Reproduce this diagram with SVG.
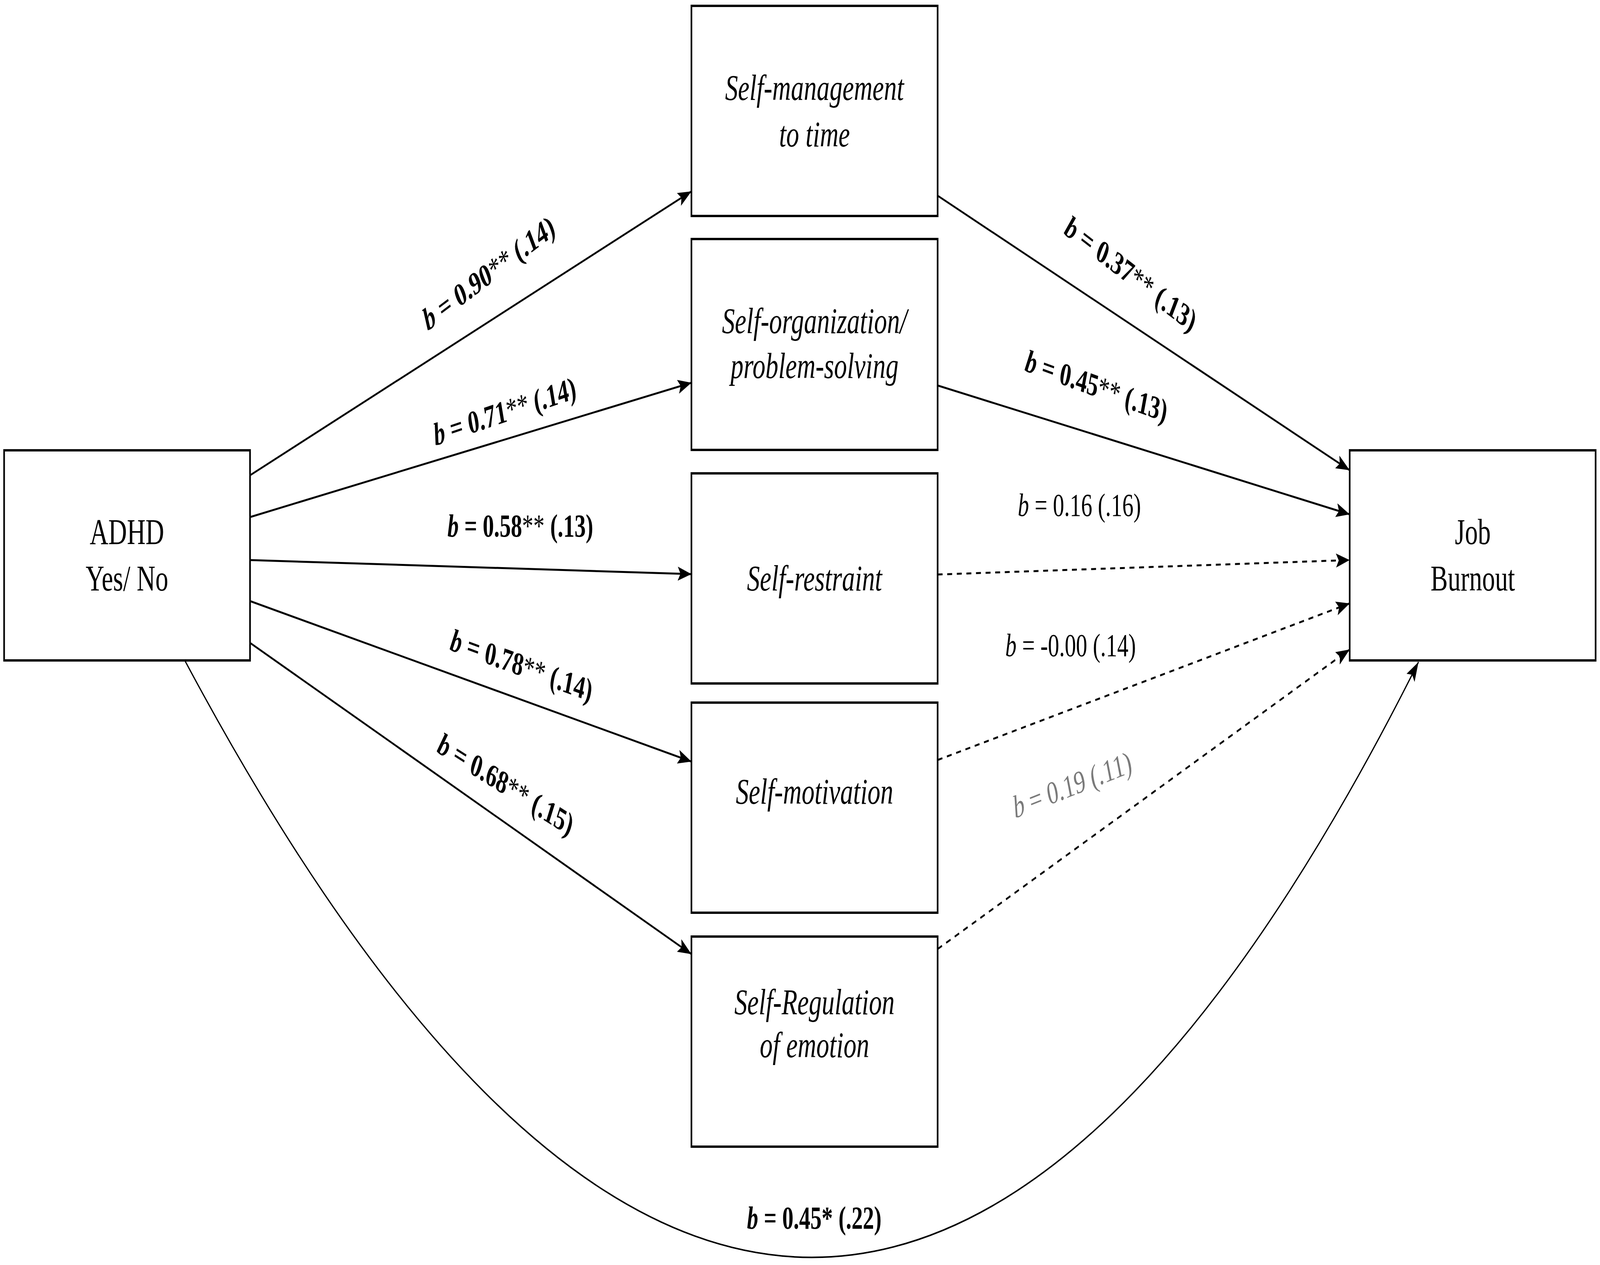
<svg xmlns="http://www.w3.org/2000/svg" width="5836" height="3239" viewBox="0 0 5836 3239" preserveAspectRatio="none">
<style>
svg{width:100vw;height:100vh;display:block}
.box{fill:#fff;stroke:#000;stroke-width:6}
.nt{font-family:"Liberation Serif","Times New Roman",serif;font-size:94px;fill:#000;text-anchor:middle}
.it{font-style:italic}
.ln{fill:none;stroke:#000;stroke-width:5}
.ds{fill:none;stroke:#000;stroke-width:5;stroke-dasharray:18 17}
.cv{fill:none;stroke:#000;stroke-width:4}
.lb{font-family:"Liberation Serif","Times New Roman",serif;font-size:82px;fill:#000;text-anchor:middle;font-weight:bold}
.lr{font-family:"Liberation Serif","Times New Roman",serif;font-size:82px;fill:#000;text-anchor:middle;font-weight:normal}
.bi{font-style:italic}
.st{font-weight:normal}
</style>
<defs>
<marker id="arr" viewBox="0 0 50 36" markerWidth="50" markerHeight="36" markerUnits="userSpaceOnUse" refX="50" refY="18" orient="auto">
<path d="M0,0 L50,18 L0,36 L10,18 z" fill="#000" stroke="none"/>
</marker>
</defs>
<rect width="5836" height="3239" fill="#fff"/>
<g id="connectors">
<line class="ln" x1="912" y1="1217" x2="2522" y2="490" marker-end="url(#arr)"/>
<line class="ln" x1="912" y1="1324" x2="2522" y2="980" marker-end="url(#arr)"/>
<line class="ln" x1="912" y1="1434" x2="2522" y2="1470" marker-end="url(#arr)"/>
<line class="ln" x1="912" y1="1539" x2="2522" y2="1950" marker-end="url(#arr)"/>
<line class="ln" x1="912" y1="1646" x2="2522" y2="2443" marker-end="url(#arr)"/>
<line class="ln" x1="3420" y1="501" x2="4923" y2="1204" marker-end="url(#arr)"/>
<line class="ln" x1="3420" y1="987" x2="4923" y2="1317" marker-end="url(#arr)"/>
<line class="ds" x1="3420" y1="1471" x2="4923" y2="1434" marker-end="url(#arr)"/>
<line class="ds" x1="3420" y1="1946" x2="4923" y2="1545" marker-end="url(#arr)"/>
<line class="ds" x1="3420" y1="2430" x2="4923" y2="1663" marker-end="url(#arr)"/>
<path class="cv" d="M674,1691 Q2996,4746 5174,1695" marker-end="url(#arr)"/>
<text class="lb" x="1795" y="723" transform="rotate(-28 1795 723)"><tspan class="bi">b</tspan> = 0.90<tspan class="st">**</tspan> (.14)</text>
<text class="lb" x="1847" y="1080" transform="rotate(-13.3 1847 1080)"><tspan class="bi">b</tspan> = 0.71<tspan class="st">**</tspan> (.14)</text>
<text class="lb" x="1898" y="1374"><tspan class="bi">b</tspan> = 0.58<tspan class="st">**</tspan> (.13)</text>
<text class="lb" x="1896" y="1730" transform="rotate(14.5 1896 1730)"><tspan class="bi">b</tspan> = 0.78<tspan class="st">**</tspan> (.14)</text>
<text class="lb" x="1834" y="2033" transform="rotate(24 1834 2033)"><tspan class="bi">b</tspan> = 0.68<tspan class="st">**</tspan> (.15)</text>
<text class="lb" x="4112" y="725" transform="rotate(28.5 4112 725)"><tspan class="bi">b</tspan> = 0.37<tspan class="st">**</tspan> (.13)</text>
<text class="lb" x="3993" y="1015" transform="rotate(14.4 3993 1015)"><tspan class="bi">b</tspan> = 0.45<tspan class="st">**</tspan> (.13)</text>
<text class="lr" x="3937" y="1321"><tspan class="bi">b</tspan> = 0.16 (.16)</text>
<text class="lr" x="3905" y="1680"><tspan class="bi">b</tspan> = -0.00 (.14)</text>
<text class="lr" x="3918" y="2036" style="fill:#7a7a7a" transform="rotate(-15.5 3918 2036)"><tspan class="bi">b</tspan> = 0.19 (.11)</text>
<text class="lb" x="2970" y="3146"><tspan class="bi">b</tspan> = 0.45* (.22)</text>
</g>
<g id="adhd">
<rect class="box" x="15" y="1153" width="897" height="538"/>
<text class="nt" x="463" y="1393">ADHD</text>
<text class="nt" x="463" y="1512">Yes/ No</text>
</g>
<g id="self-management">
<rect class="box" x="2522" y="15" width="898" height="538"/>
<text class="nt it" x="2971" y="256">Self-management</text>
<text class="nt it" x="2971" y="375">to time</text>
</g>
<g id="self-organization">
<rect class="box" x="2522" y="612" width="898" height="540"/>
<text class="nt it" x="2971" y="853">Self-organization/</text>
<text class="nt it" x="2971" y="968">problem-solving</text>
</g>
<g id="self-restraint">
<rect class="box" x="2522" y="1212" width="898" height="538"/>
<text class="nt it" x="2971" y="1512">Self-restraint</text>
</g>
<g id="self-motivation">
<rect class="box" x="2522" y="1799" width="898" height="538"/>
<text class="nt it" x="2971" y="2058">Self-motivation</text>
</g>
<g id="self-regulation">
<rect class="box" x="2522" y="2398" width="898" height="538"/>
<text class="nt it" x="2971" y="2597">Self-Regulation</text>
<text class="nt it" x="2971" y="2707">of emotion</text>
</g>
<g id="job-burnout">
<rect class="box" x="4923" y="1153" width="897" height="538"/>
<text class="nt" x="5372" y="1393">Job</text>
<text class="nt" x="5372" y="1512">Burnout</text>
</g>
</svg>
